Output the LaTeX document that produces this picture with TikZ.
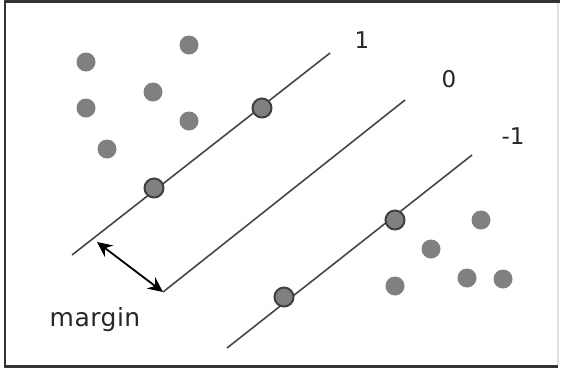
\documentclass[tikz,border=0pt]{standalone}
\usepackage{fontspec}
\setmainfont{DejaVu Sans}
\usetikzlibrary{arrows.meta, positioning}

\definecolor{ptgray}{RGB}{128,128,128}
\definecolor{lngray}{RGB}{70,70,70}

\begin{document}
\begin{tikzpicture}[x=0.5pt, y=-0.5pt, >=Stealth,
      pt/.style={circle, fill=ptgray, minimum size=9.5pt, inner sep=0pt},
      sv/.style={pt, draw=black!75, line width=1pt},
      hyp/.style={draw=lngray, line width=0.8pt},
      lbl/.style={font=\fontsize{11.5}{13}\selectfont, text=black!85}]

    \useasboundingbox (0,0) rectangle (565,372);

    % === frame ===
    \draw[black!80, line width=1.1pt] (560,1.5) -- (5,1.5) -- (5,366.5) -- (558,366.5);
    \draw[black!12, line width=0.6pt] (558,3) -- (558,365);

    % === hyperplanes ===
    \coordinate (p1a) at (72,255);  \coordinate (p1b) at (330,53);
    \coordinate (p0a) at (163,292); \coordinate (p0b) at (405,100);
    \coordinate (pma) at (227,348); \coordinate (pmb) at (472,155);
    \draw[hyp] (p1a) -- (p1b);
    \draw[hyp] (p0a) -- (p0b);
    \draw[hyp] (pma) -- (pmb);
    \node[lbl] (l1) at (362,40) {1};
    \node[lbl] (l0) at (449,79) {0};
    \node[lbl] (lm) at (513,136) {-1};

    % === class +1 ===
    \node[pt] (a1) at (86,62) {};
    \node[pt] (a2) at (189,45) {};
    \node[pt] (a3) at (153,92) {};
    \node[pt] (a4) at (86,108) {};
    \node[pt] (a5) at (189,121) {};
    \node[pt] (a6) at (107,149) {};
    \node[sv] (s1) at (262,108) {};
    \node[sv] (s2) at (154,188) {};

    % === class -1 ===
    \node[pt] (b1) at (481,220) {};
    \node[pt] (b2) at (431,249) {};
    \node[pt] (b3) at (467,278) {};
    \node[pt] (b4) at (503,279) {};
    \node[pt] (b5) at (395,286) {};
    \node[sv] (s3) at (395,220) {};
    \node[sv] (s4) at (284,297) {};

    % === margin ===
    \coordinate (m1) at (97,242);
    \draw[<->, line width=0.9pt, >={Stealth[length=7.5pt, width=7pt]}] (m1) -- (p0a);
    \node[lbl, font=\fontsize{12.5}{15}\selectfont\addfontfeatures{LetterSpace=2}] (mg) at (95,320) {margin};

\end{tikzpicture}
\end{document}
